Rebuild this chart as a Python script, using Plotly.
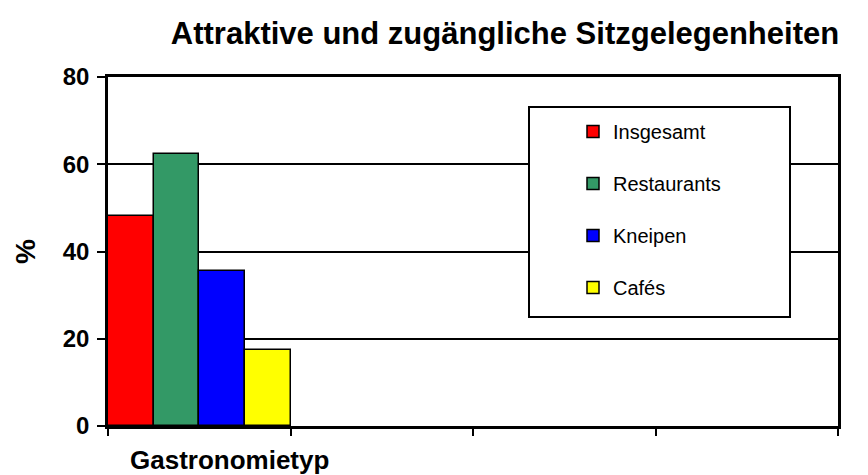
import plotly.graph_objects as go

series = ["Insgesamt", "Restaurants", "Kneipen", "Cafés"]
values = [48.2, 62.3, 35.6, 17.4]
colors = ["#ff0000", "#339966", "#0000ff", "#ffff00"]
category_positions = [0]
x_label = "Gastronomietyp"
y_ticks = [0, 20, 40, 60, 80]
x_tick_positions = [-0.5, 0.5, 1.5, 2.5, 3.5]

FONT = "Liberation Sans, Arial, sans-serif"

fig = go.Figure()
for name, v, c in zip(series, values, colors):
    fig.add_trace(go.Bar(
        x=category_positions, y=[v], name=name, legendgroup=name,
        marker=dict(color=c, line=dict(color="black", width=1.5)),
    ))

# page offset from default body margin
OFF = 8
W, H = 860, 467
L, R, T, B = 100, 30, 69, 49
pw, ph = W - L - R, H - T - B

def px_x(p):  # page pixel -> paper
    return (p - OFF - L) / pw

def px_y(p):
    return (H - B - (p - OFF)) / ph

fig.update_layout(
    width=W, height=H,
    margin=dict(l=L, r=R, t=T, b=B),
    paper_bgcolor="white", plot_bgcolor="white",
    barmode="group", bargap=0, bargroupgap=0,
    font=dict(family=FONT, color="black"),
    title=dict(text="<b>Attraktive und zugängliche Sitzgelegenheiten</b>",
               font=dict(size=31, color="black", family=FONT),
               x=px_x(505), xref="paper", xanchor="center",
               y=1 - (33 - OFF) / H, yanchor="middle"),
    showlegend=True,
    legend=dict(x=px_x(573), y=px_y(112), xanchor="left", yanchor="top",
                bgcolor="rgba(0,0,0,0)", borderwidth=0,
                font=dict(size=20, color="black", family=FONT),
                traceorder="grouped", tracegroupgap=23, itemwidth=30),
    xaxis=dict(range=[-0.5, 3.5], tickvals=x_tick_positions,
               ticktext=["" for _ in x_tick_positions],
               ticks="outside", ticklen=7, tickwidth=2, tickcolor="black",
               showline=True, linecolor="black", linewidth=2.5, mirror=True,
               showgrid=False, zeroline=False, fixedrange=True),
    yaxis=dict(range=[0, 80], tickvals=y_ticks,
               ticktext=["<b>%d</b>" % t for t in y_ticks],
               ticks="outside", ticklen=8, tickwidth=2, tickcolor="black",
               ticklabelstandoff=3,
               tickfont=dict(size=24, color="black", family=FONT),
               showline=True, linecolor="black", linewidth=2.5, mirror=True,
               showgrid=True, gridcolor="black", gridwidth=2,
               zeroline=False, fixedrange=True),
    shapes=[dict(type="rect", xref="paper", yref="paper",
                 x0=px_x(529), x1=px_x(790), y0=px_y(317), y1=px_y(107),
                 line=dict(color="black", width=2), fillcolor="white",
                 layer="above")],
    annotations=[
        dict(text="<b>%</b>", xref="paper", yref="paper", x=px_x(25), y=px_y(252),
             showarrow=False, textangle=-90, font=dict(size=28, color="black", family=FONT),
             xanchor="center", yanchor="middle"),
        dict(text="<b>" + x_label + "</b>", xref="paper", yref="paper",
             x=px_x(229), y=px_y(460), showarrow=False,
             font=dict(size=26, color="black", family=FONT),
             xanchor="center", yanchor="middle"),
    ],
)
fig.write_html("out.html")
